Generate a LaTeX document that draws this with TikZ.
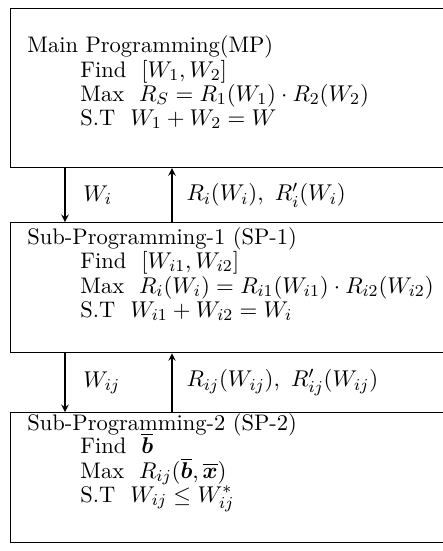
\documentclass[tikz,border=0pt]{standalone}
\usepackage{amsmath,bm}
\begin{document}
\begin{tikzpicture}[x=0.48pt, y=-0.48pt,
        progbox/.style={shape=rectangle, draw=black, line width=0.6pt, minimum width=230pt, anchor=north west, inner sep=0pt},
        head/.style={anchor=base west, inner sep=0pt, font=\fontsize{10.8}{12}\selectfont},
        row/.style={anchor=base west, inner sep=0pt, font=\fontsize{10.8}{12}\selectfont},
        flow/.style={->, >=stealth, line width=0.6pt},
        lbl/.style={midway, right, inner sep=0pt, font=\fontsize{10.8}{12}\selectfont}]
        \useasboundingbox (0,0) rectangle (443,551);
        % boxes, cut off at the right edge
        \node[name=mp, progbox, minimum height=76.3pt] at (10, 8) {};
        \node[name=sp1, progbox, minimum height=62.4pt] at (10, 222) {};
        \node[name=sp2, progbox, minimum height=62.4pt] at (10, 412) {};
        \coordinate (dn) at (65, 0);
        \coordinate (up) at (172, 0);
        % main programming
        \node[name=mphead, head] at (27, 52) {Main Programming(MP)};
        \node[name=mpfind, row] at (80, 77) {Find\ \ $[W_1, W_2]$};
        \node[name=mpmax, row] at (80, 101) {Max\ \ $R_S = R_1(W_1)\cdot R_2(W_2)$};
        \node[name=mpst, row] at (80, 125) {S.T\ \ $W_1 + W_2 = W$};
        \draw[flow] (mp.south -| dn) -- node[lbl, xshift=8.5pt] {$W_i$} (sp1.north -| dn);
        \draw[flow] (sp1.north -| up) -- node[lbl, xshift=6.7pt] {$R_i(W_i),\ R'_i(W_i)$} (mp.south -| up);
        % sub-programming 1
        \node[name=sp1head, head] at (27, 244) {Sub-Programming-1 (SP-1)};
        \node[name=sp1find, row] at (80, 268) {Find\ \ $[W_{i1}, W_{i2}]$};
        \node[name=sp1max, row] at (80, 293) {Max\ \ $R_i(W_i) = R_{i1}(W_{i1})\cdot R_{i2}(W_{i2})$};
        \node[name=sp1st, row] at (80, 317) {S.T\ \ $W_{i1} + W_{i2} = W_i$};
        \draw[flow] (sp1.south -| dn) -- node[lbl, xshift=8.5pt] {$W_{ij}$} (sp2.north -| dn);
        \draw[flow] (sp2.north -| up) -- node[lbl, xshift=6.7pt] {$R_{ij}(W_{ij}),\ R'_{ij}(W_{ij})$} (sp1.south -| up);
        % sub-programming 2
        \node[name=sp2head, head] at (27, 430) {Sub-Programming-2 (SP-2)};
        \node[name=sp2find, row] at (80, 453) {Find\ \ $\overline{\bm b}$};
        \node[name=sp2max, row] at (80, 478) {Max\ \ $R_{ij}(\overline{\bm b}, \overline{\bm x})$};
        \node[name=sp2st, row] at (80, 502) {S.T\ \ $W_{ij} \le W^*_{ij}$};
\end{tikzpicture}
\end{document}
